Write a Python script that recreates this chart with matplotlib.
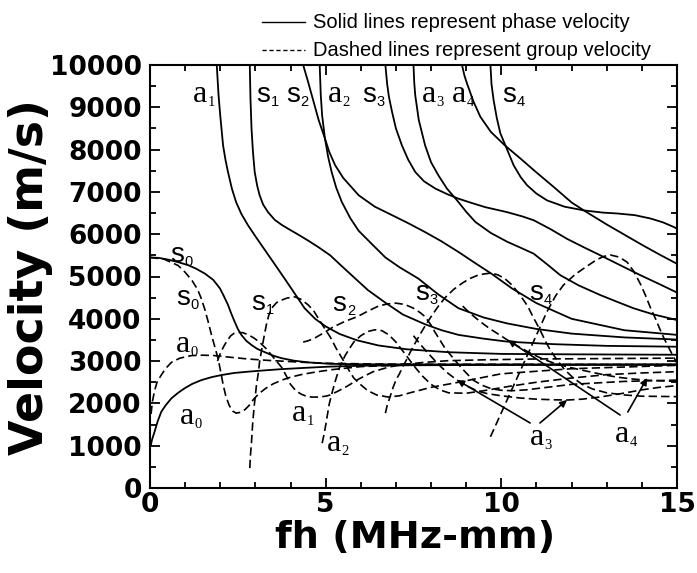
import matplotlib
matplotlib.use("Agg")
import matplotlib.pyplot as plt
from matplotlib.ticker import MultipleLocator

# ---------------- phase velocity (solid) ----------------
a0_ph_fh = [0.02, 0.06, 0.13, 0.22, 0.32, 0.45, 0.61, 0.8, 0.99, 1.2, 1.46, 1.75, 2.03, 2.4, 2.79, 3.25, 3.74, 4.4, 5.13, 6.0, 7.0, 10.0, 15.0]
a0_ph_v = [1000, 1150, 1330, 1580, 1800, 1960, 2120, 2250, 2360, 2460, 2550, 2620, 2670, 2720, 2750, 2780, 2810, 2840, 2870, 2890, 2900, 2910, 2915]

s0_ph_fh = [0.0, 0.25, 0.51, 0.8, 1.08, 1.3, 1.56, 1.8, 1.99, 2.1, 2.22, 2.31, 2.41, 2.5, 2.6, 2.74, 2.89, 3.05, 3.27, 3.5, 3.74, 4.1, 4.5, 5.13, 6.0, 7.0, 10.0, 15.0]
s0_ph_v = [5450, 5440, 5400, 5340, 5270, 5190, 5070, 4920, 4720, 4540, 4330, 4130, 3930, 3760, 3620, 3480, 3380, 3290, 3210, 3130, 3070, 3010, 2970, 2935, 2925, 2922, 2920, 2918]

a1_ph_fh = [1.9, 1.95, 2.0, 2.08, 2.15, 2.22, 2.33, 2.45, 2.6, 2.79, 3.0, 3.25, 3.55, 3.84, 4.1, 4.4, 4.7, 5.0, 5.4, 5.9, 6.5, 7.3, 8.5, 10.0, 12.0, 15.0]
a1_ph_v = [10000, 9300, 8800, 8100, 7750, 7470, 7080, 6760, 6480, 6210, 5950, 5650, 5290, 4940, 4620, 4250, 4000, 3820, 3640, 3490, 3370, 3280, 3210, 3170, 3160, 3150]

s1_ph_fh = [2.84, 2.86, 2.89, 2.93, 2.98, 3.05, 3.12, 3.22, 3.36, 3.55, 3.75, 3.93, 4.2, 4.5, 4.8, 5.13, 5.4, 5.74, 6.2, 6.7, 7.2, 7.83, 8.3, 8.78, 9.5, 10.17, 11.5, 13.0, 15.0]
s1_ph_v = [10000, 9200, 8490, 7950, 7470, 7150, 6920, 6700, 6520, 6340, 6220, 6130, 6000, 5850, 5690, 5500, 5290, 5030, 4680, 4380, 4100, 3870, 3730, 3620, 3530, 3460, 3400, 3360, 3340]

s2_ph_fh = [4.36, 4.5, 4.65, 4.8, 4.98, 5.1, 5.27, 5.5, 5.94, 6.4, 6.89, 7.35, 7.83, 8.3, 8.78, 9.25, 9.73, 10.3, 11.0, 12.0, 13.5, 15.0]
s2_ph_v = [10000, 9600, 9150, 8700, 8260, 7950, 7630, 7330, 6920, 6650, 6450, 6260, 6050, 5830, 5580, 5320, 5060, 4720, 4370, 4000, 3730, 3620]

a2_ph_fh = [4.83, 4.86, 4.9, 4.98, 5.07, 5.17, 5.3, 5.46, 5.7, 5.94, 6.3, 6.7, 7.1, 7.64, 8.2, 8.78, 9.5, 10.17, 11.0, 12.0, 13.5, 15.0]
a2_ph_v = [10000, 9300, 8800, 8260, 7830, 7470, 7100, 6760, 6380, 6080, 5780, 5450, 5220, 4950, 4580, 4250, 4030, 3890, 3760, 3650, 3560, 3510]

s3_ph_fh = [6.7, 6.75, 6.8, 6.89, 7.0, 7.17, 7.35, 7.55, 7.8, 8.12, 8.45, 8.78, 9.15, 9.54, 10.17, 10.6, 10.92, 11.4, 11.87, 12.35, 12.82, 13.4, 13.96, 14.5, 15.0]
s3_ph_v = [10000, 9550, 9250, 8890, 8500, 8100, 7760, 7470, 7250, 7080, 6950, 6840, 6740, 6640, 6520, 6420, 6330, 6120, 5890, 5690, 5500, 5260, 5030, 4820, 4620]

a3_ph_fh = [7.5, 7.52, 7.55, 7.65, 7.83, 8.0, 8.21, 8.45, 8.74, 9.0, 9.26, 9.7, 10.17, 10.55, 10.92, 11.3, 11.68, 12.2, 12.82, 13.3, 13.76, 14.3, 15.0]
a3_ph_v = [10000, 9600, 9280, 8700, 8100, 7700, 7390, 7080, 6800, 6530, 6290, 6030, 5820, 5680, 5540, 5290, 5030, 4790, 4560, 4400, 4250, 4110, 3970]

a4_ph_fh = [8.88, 8.95, 9.02, 9.2, 9.4, 9.7, 10.1, 10.5, 11.0, 11.5, 12.0, 12.39, 13.0, 13.5, 14.0, 14.5, 15.0]
a4_ph_v = [10000, 9750, 9570, 9150, 8780, 8420, 8100, 7820, 7460, 7110, 6750, 6540, 6230, 5990, 5750, 5520, 5300]

s4_ph_fh = [9.69, 9.72, 9.78, 9.87, 9.97, 10.11, 10.35, 10.55, 10.73, 11.0, 11.3, 11.8, 12.37, 12.9, 13.3, 13.8, 14.25, 14.6, 14.91, 15.0]
s4_ph_v = [10000, 9550, 9170, 8750, 8390, 8110, 7630, 7350, 7160, 6960, 6800, 6650, 6560, 6510, 6490, 6450, 6370, 6280, 6170, 6130]

# ---------------- group velocity (dashed) ----------------
a0_gr_fh = [0.03, 0.07, 0.13, 0.2, 0.32, 0.45, 0.61, 0.85, 1.18, 1.5, 1.84, 2.3, 2.79, 3.3, 3.74, 4.4, 5.0, 6.5, 8.0, 15.0]
a0_gr_v = [1750, 2050, 2300, 2500, 2670, 2830, 2970, 3070, 3130, 3140, 3130, 3090, 3050, 3020, 3000, 2970, 2950, 2930, 2925, 2920]

s0_gr_fh = [0.0, 0.4, 0.8, 1.0, 1.2, 1.35, 1.45, 1.55, 1.65, 1.75, 1.85, 1.94, 2.0, 2.08, 2.15, 2.25, 2.35, 2.45, 2.58, 2.7, 2.82, 2.95, 3.1, 3.3, 3.5, 3.75, 4.0, 4.3, 4.7, 5.2, 6.0, 7.0, 8.0, 15.0]
s0_gr_v = [5450, 5410, 5260, 5100, 4900, 4700, 4500, 4250, 3950, 3620, 3320, 3050, 2800, 2450, 2200, 1960, 1820, 1770, 1790, 1850, 1950, 2100, 2230, 2360, 2460, 2550, 2620, 2680, 2740, 2800, 2870, 2900, 2910, 2920]

a1_gr_fh = [1.92, 2.0, 2.1, 2.2, 2.3, 2.4, 2.5, 2.65, 2.8, 2.95, 3.1, 3.3, 3.45, 3.6, 3.75, 3.9, 4.0, 4.15, 4.3, 4.45, 4.6, 4.8, 5.0, 5.13, 5.35, 5.6, 5.95, 6.35, 6.8, 7.2, 7.8, 8.5, 9.5, 11.0, 13.0, 15.0]
a1_gr_v = [3000, 3180, 3350, 3490, 3600, 3660, 3680, 3670, 3620, 3550, 3460, 3300, 3150, 3000, 2850, 2620, 2450, 2300, 2220, 2170, 2150, 2150, 2170, 2200, 2290, 2400, 2580, 2750, 2860, 2920, 2970, 3010, 3030, 3050, 3060, 3070]

s1_gr_fh = [2.84, 2.86, 2.89, 2.92, 2.96, 3.0, 3.03, 3.08, 3.12, 3.17, 3.22, 3.27, 3.31, 3.38, 3.46, 3.6, 3.74, 3.9, 4.12, 4.3, 4.5, 4.65, 4.77, 4.95, 5.13, 5.3, 5.5, 5.65, 5.8, 6.0, 6.2, 6.45, 6.78, 7.1, 7.4, 8.0, 8.78, 10.0, 12.0, 15.0]
s1_gr_v = [470, 780, 1090, 1500, 1890, 2200, 2430, 2700, 2990, 3230, 3460, 3680, 3850, 4080, 4250, 4380, 4440, 4490, 4520, 4460, 4330, 4200, 4040, 3800, 3570, 3300, 3020, 2800, 2600, 2440, 2300, 2200, 2150, 2180, 2250, 2380, 2500, 2700, 2820, 2900]

a2_gr_fh = [4.9, 4.95, 5.0, 5.04, 5.1, 5.2, 5.3, 5.4, 5.48, 5.56, 5.68, 5.8, 6.0, 6.2, 6.4, 6.6, 6.8, 7.0, 7.25, 7.5, 7.75, 8.0, 8.25, 8.5, 9.0, 9.5, 10.2, 11.0, 12.0, 13.0, 14.0, 15.0]
a2_gr_v = [1060, 1250, 1480, 1680, 1980, 2310, 2600, 2860, 3010, 3140, 3300, 3450, 3600, 3700, 3740, 3720, 3620, 3450, 3180, 2900, 2650, 2450, 2320, 2250, 2240, 2300, 2400, 2500, 2600, 2680, 2720, 2750]

s2_gr_fh = [4.36, 4.5, 4.7, 4.95, 5.2, 5.55, 5.9, 6.2, 6.5, 6.75, 7.0, 7.25, 7.5, 7.7, 7.83, 8.0, 8.1, 8.25, 8.4, 8.6, 8.8, 9.0, 9.2, 9.45, 9.7, 10.0, 10.3, 10.7, 11.0, 12.0, 13.5, 15.0]
s2_gr_v = [3450, 3480, 3550, 3670, 3800, 3940, 4050, 4180, 4300, 4350, 4370, 4340, 4250, 4140, 4050, 3850, 3700, 3500, 3300, 3100, 2900, 2720, 2550, 2430, 2350, 2310, 2300, 2320, 2350, 2450, 2520, 2550]

s3_gr_fh = [6.7, 6.75, 6.85, 6.92, 7.0, 7.1, 7.18, 7.3, 7.4, 7.55, 7.7, 7.85, 8.0, 8.2, 8.4, 8.65, 8.9, 9.1, 9.3, 9.5, 9.7, 9.9, 10.1, 10.3, 10.45, 10.6, 10.75, 10.9, 11.1, 11.25, 11.4, 11.6, 11.8, 12.05, 12.3, 12.6, 13.0, 13.5, 14.0, 15.0]
s3_gr_v = [1770, 1950, 2200, 2380, 2550, 2700, 2840, 3030, 3200, 3430, 3650, 3860, 4050, 4290, 4500, 4700, 4850, 4950, 5020, 5060, 5080, 5040, 4950, 4800, 4650, 4480, 4300, 4050, 3740, 3480, 3250, 3010, 2800, 2600, 2450, 2340, 2250, 2200, 2170, 2160]

a3_gr_fh = [7.5, 7.7, 7.9, 8.1, 8.3, 8.5, 8.74, 9.0, 9.3, 9.6, 10.0, 10.5, 11.0, 11.5, 11.88, 12.3, 12.8, 13.4, 14.0, 14.5, 15.0]
a3_gr_v = [3600, 3390, 3200, 3020, 2850, 2700, 2550, 2420, 2300, 2230, 2180, 2130, 2100, 2085, 2080, 2100, 2150, 2230, 2320, 2380, 2420]

a4_gr_fh = [8.9, 9.1, 9.3, 9.5, 9.7, 9.95, 10.17, 10.5, 10.8, 11.15, 11.5, 12.0, 12.5, 12.9, 13.3, 13.7, 14.1, 14.5, 15.0]
a4_gr_v = [4300, 4140, 4000, 3870, 3750, 3620, 3500, 3340, 3200, 3060, 2950, 2840, 2750, 2680, 2620, 2580, 2550, 2535, 2520]

s4_gr_fh = [9.69, 10.0, 10.26, 10.54, 10.92, 11.3, 11.55, 11.77, 12.1, 12.45, 12.7, 12.9, 13.1, 13.35, 13.58, 13.77, 13.96, 14.1, 14.25, 14.4, 14.53, 14.63, 14.72, 14.82, 14.9, 15.0]
s4_gr_v = [1210, 1780, 2260, 2770, 3470, 4170, 4550, 4800, 5050, 5250, 5390, 5470, 5510, 5460, 5340, 5120, 4820, 4560, 4250, 3980, 3720, 3540, 3390, 3230, 3100, 2950]

x_ticks = [0, 5, 10, 15]
y_ticks = [0, 1000, 2000, 3000, 4000, 5000, 6000, 7000, 8000, 9000, 10000]

phase_curves = [(a0_ph_fh, a0_ph_v), (s0_ph_fh, s0_ph_v), (a1_ph_fh, a1_ph_v), (s1_ph_fh, s1_ph_v),
                (s2_ph_fh, s2_ph_v), (a2_ph_fh, a2_ph_v), (s3_ph_fh, s3_ph_v), (a3_ph_fh, a3_ph_v),
                (a4_ph_fh, a4_ph_v), (s4_ph_fh, s4_ph_v)]
group_curves = [(a0_gr_fh, a0_gr_v), (s0_gr_fh, s0_gr_v), (a1_gr_fh, a1_gr_v), (s1_gr_fh, s1_gr_v),
                (a2_gr_fh, a2_gr_v), (s2_gr_fh, s2_gr_v), (s3_gr_fh, s3_gr_v), (a3_gr_fh, a3_gr_v),
                (a4_gr_fh, a4_gr_v), (s4_gr_fh, s4_gr_v)]

W, H = 697, 573
fig = plt.figure(figsize=(W / 100, H / 100), dpi=100)
ax = fig.add_axes([150 / W, 1 - 488 / H, 527 / W, 423 / H])

for fh, v in phase_curves:
    ax.plot(fh, v, color='black', lw=1.3, solid_joinstyle='round')
for fh, v in group_curves:
    ax.plot(fh, v, color='black', lw=1.2, linestyle=(0, (5, 2.5)))

ax.set_xlim(0, 15)
ax.set_ylim(0, 10000)
ax.set_xticks(x_ticks)
ax.set_yticks(y_ticks)
ax.xaxis.set_minor_locator(MultipleLocator(1))
ax.yaxis.set_minor_locator(MultipleLocator(500))
ax.tick_params(which='both', direction='in', top=True, right=True, width=1.3)
ax.tick_params(which='major', length=7)
ax.tick_params(which='minor', length=4)
ax.tick_params(axis='x', which='major', pad=3)
ax.tick_params(axis='y', which='major', pad=6)
for sp in ax.spines.values():
    sp.set_linewidth(1.5)
for lab in ax.get_xticklabels() + ax.get_yticklabels():
    lab.set_fontsize(19)
    lab.set_fontweight('bold')
    lab.set_family('DejaVu Sans')

fig.text(31 / W, 1 - 277 / H, 'Velocity (m/s)', rotation=90, ha='center', va='center',
         fontsize=33, fontweight='bold', family='DejaVu Sans')
fig.text(415 / W, 1 - 538 / H, 'fh (MHz-mm)', ha='center', va='center',
         fontsize=27.5, fontweight='bold', family='DejaVu Sans')

# legend (drawn in figure coordinates)
fig.add_artist(plt.Line2D([262 / W, 305 / W], [1 - 22 / H, 1 - 22 / H], color='black', lw=1.0))
fig.add_artist(plt.Line2D([262 / W, 305 / W], [1 - 50 / H, 1 - 50 / H], color='black', lw=1.0,
                          linestyle=(0, (3, 2))))
fig.text(313 / W, 1 - 22 / H, 'Solid lines represent phase velocity', ha='left', va='center',
         fontsize=14.5, family='Liberation Sans')
fig.text(313 / W, 1 - 50 / H, 'Dashed lines represent group velocity', ha='left', va='center',
         fontsize=14.5, family='Liberation Sans')


def mode_label(x, y, letter, sub):
    if letter == 'a':
        fam, size, dx = 'Liberation Serif', 23, 10.5
    else:
        fam, size, dx = 'Liberation Sans', 20, 10.5
    ax.text(x, y, letter, fontsize=size, family=fam, ha='left', va='baseline')
    ax.annotate(sub, (x, y), xytext=(dx, -3), textcoords='offset points', fontsize=10.5,
                family=fam, ha='left', va='baseline')


top_labels = [(1.22, 'a', '1'), (3.02, 's', '1'), (3.87, 's', '2'), (5.07, 'a', '2'),
              (6.03, 's', '3'), (7.74, 'a', '3'), (8.6, 'a', '4'), (10.02, 's', '4')]
for x, l, s in top_labels:
    mode_label(x, 9130, l, s)

mid_labels = [(0.57, 5340, 's', '0'), (0.74, 4330, 's', '0'), (0.74, 3210, 'a', '0'),
              (0.85, 1510, 'a', '0'), (2.87, 4210, 's', '1'), (5.2, 4180, 's', '2'),
              (7.54, 4440, 's', '3'), (10.8, 4440, 's', '4'), (4.04, 1580, 'a', '1'),
              (5.04, 870, 'a', '2'), (10.82, 1020, 'a', '3'), (13.24, 1090, 'a', '4')]
for x, y, l, s in mid_labels:
    mode_label(x, y, l, s)

arrows = [((10.82, 1537), (8.74, 2553)), ((11.1, 1537), (11.87, 2080)),
          ((13.38, 1726), (10.19, 3499)), ((13.6, 1797), (14.15, 2600))]
for tail, tip in arrows:
    ax.annotate('', xy=tip, xytext=tail,
                arrowprops=dict(arrowstyle='-|>', color='black', lw=1.2, mutation_scale=10,
                                shrinkA=0, shrinkB=0))

fig.savefig('out.png', dpi=100)
